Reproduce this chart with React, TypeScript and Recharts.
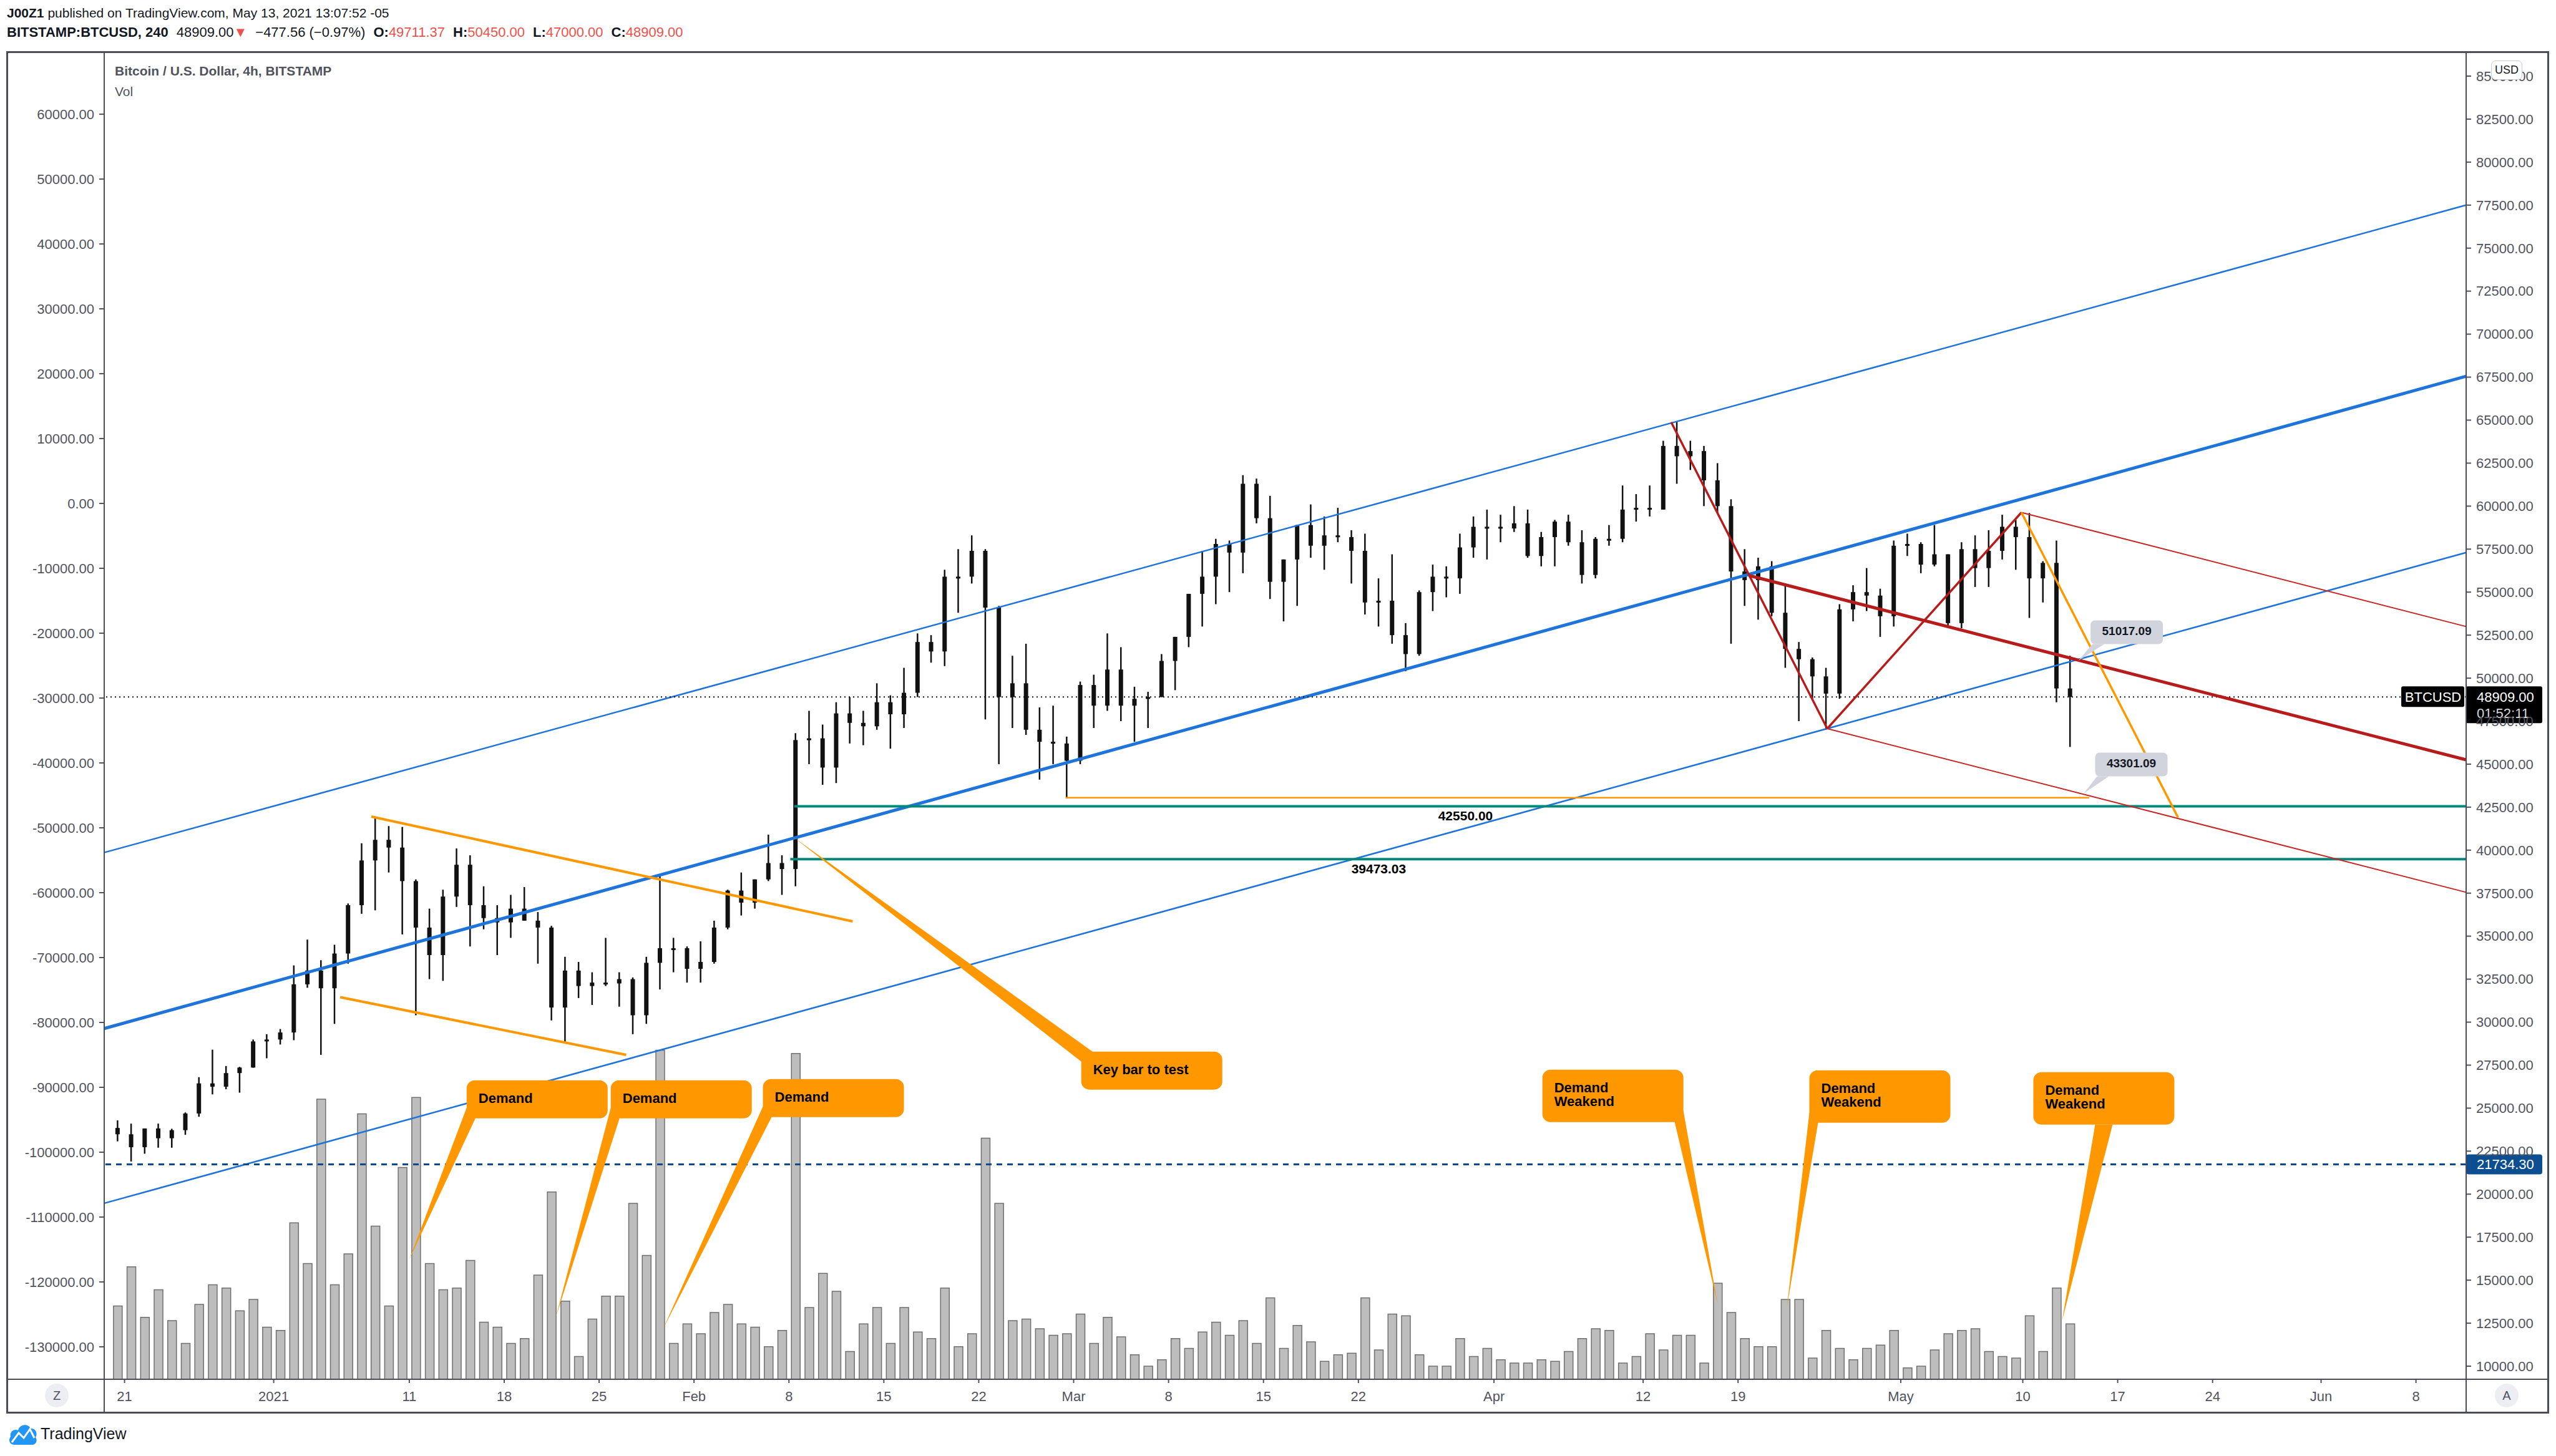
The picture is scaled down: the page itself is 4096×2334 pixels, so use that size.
import React from 'react';
import { ComposedChart, Bar, XAxis, YAxis, ReferenceLine, ReferenceDot } from 'recharts';

const W = 4096;
const H = 2334;
const FONT = "'Liberation Sans', Arial, sans-serif";
const AXIS_TEXT = '#50535e';
const RED = '#f0504a';

// days counted from Jan 1 2021; first daily bar is Dec 20 2020
const FIRST_DAY = -12;
const X_MIN = -12.5;
const X_MAX = 161.7;

const OPEN = [
  23850, 23480, 22730, 23820, 23250, 23720, 24690, 26440, 26250, 27040,
  27360, 28880, 28990, 29400, 32200, 33000, 31970, 33990, 36800, 39400,
  40600, 40150, 38200, 35500, 33900, 37300, 39150, 36800, 36050, 35800,
  36600, 35900, 35500, 30850, 33000, 32100, 32300, 32250, 32500, 30400,
  33450, 34300, 34300, 33100, 33500, 35500, 37650, 36950, 38300, 39250,
  38900, 46400, 46500, 44800, 47950, 47400, 47200, 48600, 47900, 49150,
  52100, 51550, 55900, 55900, 57400, 54100, 48900, 49700, 47000, 46300,
  46200, 45200, 49600, 48400, 50500, 48400, 48800, 48900, 51000, 52400,
  54900, 55900, 57800, 57300, 61300, 59300, 55600, 56900, 58900, 57700,
  58300, 58200, 57400, 54400, 54500, 52500, 51400, 55000, 55900, 55800,
  57600, 58800, 58800, 58700, 59000, 57100, 58200, 59100, 57900, 56000,
  58100, 58100, 59800, 59900, 59800, 63500, 62900, 63200, 61500, 60000,
  56200, 55700, 56500, 53800, 51700, 51100, 50100, 49100, 54000, 55000,
  54800, 53600, 57700, 57800, 56600, 57200, 53200, 57500, 56400, 57400,
  58800, 58200, 55800, 56700, 49400,
];
const HIGH = [
  24290, 24100, 23800, 24100, 23800, 24750, 26800, 28400, 27450, 27400,
  28990, 29300, 29600, 33300, 34800, 33600, 34500, 36900, 40400, 41950,
  41400, 41350, 38300, 36600, 37700, 40100, 39700, 37900, 36800, 37400,
  37850, 36400, 35600, 33800, 33500, 32900, 34900, 32900, 32600, 33800,
  38500, 34900, 34400, 34700, 35900, 37700, 38700, 38300, 40900, 39700,
  46800, 48100, 47300, 48600, 48900, 48100, 49700, 49000, 50600, 52600,
  52500, 56300, 57500, 58300, 57500, 54200, 51300, 52000, 48300, 48400,
  46600, 49800, 50200, 52600, 51800, 49500, 49200, 51400, 52400, 54900,
  57400, 58100, 58000, 61800, 61600, 60600, 56900, 58900, 60100, 59400,
  59900, 58600, 58400, 55800, 57200, 53200, 55100, 56600, 56500, 58400,
  59400, 59800, 59500, 60000, 59800, 58500, 59200, 59500, 58600, 58200,
  58900, 61200, 60700, 61200, 63800, 64900, 63800, 63500, 62500, 60400,
  57500, 57000, 56800, 55500, 52100, 51200, 50600, 54300, 55400, 56400,
  55200, 58000, 58400, 57900, 58900, 57200, 57900, 58300, 58600, 59500,
  59200, 59600, 56800, 58000, 51300,
];
const LOW = [
  23070, 21900, 22350, 22700, 22700, 23450, 24500, 25800, 26100, 25900,
  27350, 27900, 28700, 28950, 32000, 28100, 29900, 33400, 36300, 36500,
  38700, 35100, 30400, 32500, 32400, 36700, 34400, 35400, 33900, 34900,
  35900, 33400, 30100, 28850, 31400, 31000, 32100, 30900, 29300, 29900,
  31900, 32900, 32300, 32300, 33400, 35400, 36200, 36600, 38200, 37400,
  37900, 45000, 43800, 43900, 46200, 46100, 47000, 45900, 47100, 48900,
  50900, 50700, 53800, 55500, 47600, 45000, 47100, 46700, 44100, 45000,
  43000, 45000, 47100, 48100, 47500, 46300, 47100, 48900, 49300, 51800,
  53000, 54300, 55000, 56100, 59000, 54600, 53300, 54200, 57000, 56300,
  57900, 55500, 53700, 53000, 52000, 50400, 51300, 53900, 54700, 54900,
  57000, 56900, 57900, 58500, 57000, 56500, 56500, 57700, 55500, 55800,
  57700, 57900, 59100, 59400, 59800, 61300, 62100, 60000, 59600, 52000,
  54200, 53400, 53600, 50600, 47500, 48800, 47000, 48800, 53300, 53900,
  52400, 53000, 57100, 56100, 56500, 53000, 52900, 55300, 55300, 56900,
  56300, 53500, 54400, 48600, 46000,
];
const CLOSE = [
  23480, 22730, 23820, 23250, 23720, 24690, 26440, 26250, 27040, 27360,
  28880, 28990, 29400, 32200, 33000, 31970, 33990, 36800, 39400, 40600,
  40150, 38200, 35500, 33900, 37300, 39150, 36800, 36050, 35800, 36600,
  35900, 35500, 30850, 33000, 32100, 32300, 32250, 32500, 30400, 33450,
  34300, 34300, 33100, 33500, 35500, 37650, 36950, 38300, 39250, 38900,
  46400, 46500, 44800, 47950, 47400, 47200, 48600, 47900, 49150, 52100,
  51550, 55900, 55900, 57400, 54100, 48900, 49700, 47000, 46300, 46200,
  45200, 49600, 48400, 50500, 48400, 48800, 48900, 51000, 52400, 54900,
  55900, 57800, 57300, 61300, 59300, 55600, 56900, 58900, 57700, 58300,
  58200, 57400, 54400, 54500, 52500, 51400, 55000, 55900, 55800, 57600,
  58800, 58800, 58700, 59000, 57100, 58200, 59100, 57900, 56000, 58100,
  58100, 59800, 59900, 59800, 63500, 62900, 63200, 61500, 60000, 56200,
  55700, 56500, 53800, 51700, 51100, 50100, 49100, 54000, 55000, 54800,
  53600, 57700, 57800, 56600, 57200, 53200, 57500, 56400, 57400, 58800,
  58200, 55800, 56700, 49400, 48909,
];
const VOLUME = [
  900, 1380, 760, 1100, 720, 440, 920, 1160, 1120, 840,
  980, 640, 600, 1920, 1420, 3440, 1160, 1540, 3260, 1880,
  900, 2600, 3460, 1420, 1100, 1120, 1460, 700, 640, 440,
  500, 1280, 2300, 960, 280, 740, 1020, 1020, 2160, 1520,
  4040, 440, 680, 560, 820, 920, 680, 640, 400, 600,
  4000, 880, 1300, 1080, 340, 680, 880, 440, 880, 580,
  500, 1120, 400, 560, 2960, 2160, 720, 740, 620, 540,
  560, 800, 440, 760, 520, 300, 160, 240, 500, 380,
  580, 700, 540, 720, 440, 1000, 380, 660, 460, 220,
  300, 320, 1000, 360, 800, 780, 300, 160, 160, 500,
  280, 380, 240, 200, 200, 240, 220, 340, 500, 620,
  600, 200, 280, 560, 360, 540, 540, 200, 1180, 820,
  500, 400, 400, 980, 980, 260, 600, 380, 240, 380,
  420, 600, 140, 160, 360, 560, 600, 620, 340, 280,
  260, 780, 340, 1120, 680,
];

const TIME_TICKS = [-11, 0, 10, 17, 24, 31, 38, 45, 52, 59, 66, 73, 80, 90, 101, 108, 120, 129, 136, 143, 151, 158];
const TIME_LABELS = ['21', '2021', '11', '18', '25', 'Feb', '8', '15', '22', 'Mar', '8', '15', '22', 'Apr', '12', '19', 'May', '10', '17', '24', 'Jun', '8'];
const PRICE_TICKS = [
  10000, 12500, 15000, 17500, 20000, 22500, 25000, 27500, 30000, 32500, 35000,
  37500, 40000, 42500, 45000, 47500, 50000, 52500, 55000, 57500, 60000, 62500,
  65000, 67500, 70000, 72500, 75000, 77500, 80000, 82500, 85000,
];
const LEFT_TICKS = [
  -130000, -120000, -110000, -100000, -90000, -80000, -70000, -60000, -50000, -40000,
  -30000, -20000, -10000, 0, 10000, 20000, 30000, 40000, 50000, 60000,
];

// drawings, as [day, price]
const CHANNEL_UPPER = [[X_MIN, 39860], [X_MAX, 77500]];
const CHANNEL_MID = [[X_MIN, 29630], [X_MAX, 67550]];
const CHANNEL_LOWER = [[X_MIN, 19470], [X_MAX, 57300]];
const WEDGE_TOP = [[7.2, 41950], [42.7, 35860]];
const WEDGE_BOTTOM = [[4.9, 31450], [26.0, 28100]];
const FEB_LOW_RAY = [[58.4, 43050], [133.9, 43050]];
const FORK_A = [103.07, 64880];
const FORK_B = [114.58, 47065];
const FORK_C = [128.9, 59630];
const FORK_M = [108.8, 55970];
const FORK_RIGHT = [45250, 53000, 37550]; // median, upper, lower at right edge
const DROP_LINE = [[128.9, 59630], [140.45, 41900]];
const LEVEL_PRICES = [42550, 39473.03];
const LEVEL_STARTS = [38.4, 38.1];
const LEVEL_LABEL_DAYS = [87.9, 81.5];
const SUPPORT_PRICE = 21734.3;
const LAST_PRICE = 48909;

const DEMAND_BOXES = [[14.23, 26620], [24.86, 26620], [36.08, 26690]];
const DEMAND_TIPS = [[10.0, 16200], [20.8, 12830], [28.7, 12140]];
const KEY_BOX = [59.56, 28290];
const KEY_TIP = [38.3, 40770];
const WEAK_BOXES = [[93.57, 27235], [113.26, 27200], [129.78, 27090]];
const WEAK_TIPS = [[106.5, 13590], [111.6, 13410], [131.9, 12650]];
const PRICE_NOTES = ['51017.09', '43301.09'];
const PRICE_NOTE_BOXES = [[134.0, 53360], [134.34, 45670]];
const PRICE_NOTE_TIPS = [[133.1, 51017.09], [133.5, 43301.09]];

const data = OPEN.map((open, i) => ({
  t: FIRST_DAY + i + 0.5,
  range: [LOW[i], HIGH[i]],
  open,
  high: HIGH[i],
  low: LOW[i],
  close: CLOSE[i],
  vol: VOLUME[i],
}));

const seg = (a: number[], b: number[]) => [{ x: a[0], y: a[1] }, { x: b[0], y: b[1] }];
const ids = { xAxisId: 'x', yAxisId: 'price' } as const;

const Candle = (props: any) => {
  const { x, width, payload } = props;
  let { y, height } = props;
  if (!payload || y == null || height == null) return null;
  if (height < 0) { y += height; height = -height; }
  const { open, high, low, close } = payload;
  const span = high - low || 1;
  const py = (v: number) => y + ((high - v) / span) * height;
  const cx = x + width / 2;
  const top = py(Math.max(open, close));
  const bot = py(Math.min(open, close));
  return (
    <g>
      <line x1={cx} x2={cx} y1={y} y2={y + height} stroke="#111" strokeWidth={2.5} />
      <rect x={x} y={top} width={width} height={Math.max(bot - top, 3)} fill="#111" />
    </g>
  );
};

const balloon = (
  lines: string[], w: number, h: number, base: number[][],
  opts: { fill: string; r: number; size: number; center?: boolean; color?: string },
) => (p: any) => {
  const { x1, y1, x2, y2 } = p;
  const mid = y1 + h / 2;
  return (
    <g>
      <polygon
        points={`${x1 + base[0][0]},${y1 + base[0][1]} ${x2},${y2} ${x1 + base[1][0]},${y1 + base[1][1]}`}
        fill={opts.fill}
      />
      <rect x={x1} y={y1} width={w} height={h} rx={opts.r} fill={opts.fill} />
      {lines.map((s, i) => (
        <text
          key={i}
          x={opts.center ? x1 + w / 2 : x1 + 19}
          y={mid - 2 + (i - (lines.length - 1) / 2) * 22}
          textAnchor={opts.center ? 'middle' : 'start'}
          dominantBaseline="central"
          fontSize={opts.size}
          fontWeight="bold"
          fontFamily={FONT}
          fill={opts.color || '#000'}
        >
          {s}
        </text>
      ))}
    </g>
  );
};

const ORANGE = '#ff9800';
const orangeOpts = { fill: ORANGE, r: 13, size: 22 };
const grayOpts = { fill: '#d1d4dc', r: 7, size: 19, center: true, color: '#131722' };

const gap = { marginLeft: 13 };

export default function App() {
  return (
    <div style={{ position: 'absolute', left: 0, top: 0, width: W, height: H, background: '#fff', fontFamily: FONT, overflow: 'hidden' }}>
      <div style={{ position: 'absolute', left: 11, top: 8, fontSize: 21, lineHeight: '26px', color: '#131722', whiteSpace: 'nowrap' }}>
        <b>J00Z1</b> published on TradingView.com, May 13, 2021 13:07:52 -05
      </div>
      <div style={{ position: 'absolute', left: 11, top: 38, fontSize: 22, lineHeight: '28px', color: '#131722', whiteSpace: 'nowrap' }}>
        <b>BITSTAMP:BTCUSD, 240</b>
        <span style={gap}>48909.00</span><span style={{ color: RED }}>▼</span>
        <span style={gap}>−477.56 (−0.97%)</span>
        <b style={gap}>O:</b><span style={{ color: RED }}>49711.37</span>
        <b style={gap}>H:</b><span style={{ color: RED }}>50450.00</span>
        <b style={gap}>L:</b><span style={{ color: RED }}>47000.00</span>
        <b style={gap}>C:</b><span style={{ color: RED }}>48909.00</span>
      </div>

      <div style={{ position: 'absolute', left: 0, top: 0 }}>
        <ComposedChart width={W} height={H} data={data} margin={{ top: 83, right: 13, bottom: 70, left: 11 }}>
          <XAxis
            xAxisId="x"
            type="number"
            dataKey="t"
            domain={[X_MIN, X_MAX]}
            allowDataOverflow
            ticks={TIME_TICKS}
            interval={0}
            tickFormatter={(v: number) => TIME_LABELS[TIME_TICKS.indexOf(v)] ?? ''}
            height={53}
            axisLine={false}
            tickLine={{ stroke: AXIS_TEXT, strokeWidth: 2 }}
            tickSize={6}
            tickMargin={13}
            tick={{ fontSize: 22, fill: AXIS_TEXT, fontFamily: FONT }}
          />
          <XAxis xAxisId="xv" type="number" dataKey="t" domain={[X_MIN, X_MAX]} allowDataOverflow hide />
          <YAxis
            yAxisId="left"
            orientation="left"
            type="number"
            domain={[-135005, 69625]}
            allowDataOverflow
            ticks={LEFT_TICKS}
            interval={0}
            width={156}
            axisLine={false}
            tickLine={{ stroke: AXIS_TEXT, strokeWidth: 2 }}
            tickSize={8}
            tickMargin={8}
            tickFormatter={(v: number) => v.toFixed(2)}
            tick={{ fontSize: 22, fill: AXIS_TEXT, fontFamily: FONT }}
          />
          <YAxis
            yAxisId="price"
            orientation="right"
            type="number"
            domain={[9238, 86415]}
            allowDataOverflow
            ticks={PRICE_TICKS}
            interval={0}
            width={131}
            axisLine={false}
            tickLine={{ stroke: AXIS_TEXT, strokeWidth: 2 }}
            tickSize={8}
            tickMargin={8}
            tickFormatter={(v: number) => v.toFixed(2)}
            tick={{ fontSize: 22, fill: AXIS_TEXT, fontFamily: FONT }}
          />
          <YAxis yAxisId="vol" type="number" domain={[0, 16300]} allowDataOverflow hide />

          <Bar xAxisId="xv" yAxisId="vol" dataKey="vol" barSize={14} fill="#bdbdbd" stroke="#707070" strokeWidth={1.5} isAnimationActive={false} />
          <Bar {...ids} dataKey="range" barSize={7} shape={(p: any) => <Candle {...p} />} isAnimationActive={false} />

          {/* rising channel */}
          <ReferenceLine {...ids} segment={seg(CHANNEL_UPPER[0], CHANNEL_UPPER[1])} stroke="#1e74d8" strokeWidth={2.5} ifOverflow="visible" />
          <ReferenceLine {...ids} segment={seg(CHANNEL_MID[0], CHANNEL_MID[1])} stroke="#1e74d8" strokeWidth={5} ifOverflow="visible" />
          <ReferenceLine {...ids} segment={seg(CHANNEL_LOWER[0], CHANNEL_LOWER[1])} stroke="#1e74d8" strokeWidth={2.5} ifOverflow="visible" />

          {/* January wedge */}
          <ReferenceLine {...ids} segment={seg(WEDGE_TOP[0], WEDGE_TOP[1])} stroke={ORANGE} strokeWidth={4} ifOverflow="visible" />
          <ReferenceLine {...ids} segment={seg(WEDGE_BOTTOM[0], WEDGE_BOTTOM[1])} stroke={ORANGE} strokeWidth={4} ifOverflow="visible" />

          {/* horizontal levels */}
          <ReferenceLine {...ids} y={LAST_PRICE} stroke="#111" strokeWidth={2} strokeDasharray="2 5" />
          <ReferenceLine {...ids} y={SUPPORT_PRICE} stroke="#0c4a8c" strokeWidth={3} strokeDasharray="9 8" />
          {LEVEL_PRICES.map((p, i) => (
            <ReferenceLine key={'lv' + i} {...ids} segment={seg([LEVEL_STARTS[i], p], [X_MAX, p])} stroke="#00897b" strokeWidth={4} ifOverflow="visible" />
          ))}
          <ReferenceLine {...ids} segment={seg(FEB_LOW_RAY[0], FEB_LOW_RAY[1])} stroke={ORANGE} strokeWidth={2.5} ifOverflow="visible" />
          {LEVEL_PRICES.map((p, i) => (
            <ReferenceDot
              key={'lt' + i}
              {...ids}
              x={LEVEL_LABEL_DAYS[i]}
              y={p}
              ifOverflow="visible"
              shape={(d: any) => (
                <text x={d.cx} y={d.cy + 15} textAnchor="middle" dominantBaseline="central" fontSize={21} fontWeight="bold" fontFamily={FONT} fill="#000">
                  {p.toFixed(2)}
                </text>
              )}
            />
          ))}

          {/* modified pitchfork */}
          <ReferenceLine {...ids} segment={seg(FORK_A, FORK_B)} stroke="#b71c1c" strokeWidth={3.5} ifOverflow="visible" />
          <ReferenceLine {...ids} segment={seg(FORK_B, FORK_C)} stroke="#b71c1c" strokeWidth={3.5} ifOverflow="visible" />
          <ReferenceLine {...ids} segment={seg(FORK_M, [X_MAX, FORK_RIGHT[0]])} stroke="#b71c1c" strokeWidth={5} ifOverflow="visible" />
          <ReferenceLine {...ids} segment={seg(FORK_C, [X_MAX, FORK_RIGHT[1]])} stroke="#c62828" strokeWidth={2} ifOverflow="visible" />
          <ReferenceLine {...ids} segment={seg(FORK_B, [X_MAX, FORK_RIGHT[2]])} stroke="#c62828" strokeWidth={2} ifOverflow="visible" />
          <ReferenceLine {...ids} segment={seg(DROP_LINE[0], DROP_LINE[1])} stroke={ORANGE} strokeWidth={3.5} ifOverflow="visible" />

          {/* price notes */}
          {PRICE_NOTES.map((s, i) => (
            <ReferenceLine
              key={'pn' + i}
              {...ids}
              segment={seg(PRICE_NOTE_BOXES[i], PRICE_NOTE_TIPS[i])}
              ifOverflow="visible"
              shape={balloon([s], 116, 38, [[3, 38], [22, 38]], grayOpts)}
            />
          ))}

          {/* callouts */}
          {DEMAND_BOXES.map((b, i) => (
            <ReferenceLine
              key={'dm' + i}
              {...ids}
              segment={seg(b, DEMAND_TIPS[i])}
              ifOverflow="visible"
              shape={balloon(['Demand'], 226, 61, [[0, 44], [14, 61]], orangeOpts)}
            />
          ))}
          <ReferenceLine
            {...ids}
            segment={seg(KEY_BOX, KEY_TIP)}
            ifOverflow="visible"
            shape={balloon(['Key bar to test'], 226, 61, [[0, 16], [18, 0]], orangeOpts)}
          />
          <ReferenceLine
            {...ids}
            segment={seg(WEAK_BOXES[0], WEAK_TIPS[0])}
            ifOverflow="visible"
            shape={balloon(['Demand', 'Weakend'], 226, 84, [[226, 66], [212, 84]], orangeOpts)}
          />
          <ReferenceLine
            {...ids}
            segment={seg(WEAK_BOXES[1], WEAK_TIPS[1])}
            ifOverflow="visible"
            shape={balloon(['Demand', 'Weakend'], 226, 84, [[0, 68], [14, 84]], orangeOpts)}
          />
          <ReferenceLine
            {...ids}
            segment={seg(WEAK_BOXES[2], WEAK_TIPS[2])}
            ifOverflow="visible"
            shape={balloon(['Demand', 'Weakend'], 226, 84, [[99, 84], [127, 84]], orangeOpts)}
          />

          {/* axis price tags */}
          <ReferenceDot
            {...ids}
            x={X_MAX}
            y={LAST_PRICE}
            ifOverflow="visible"
            shape={(d: any) => (
              <g fontFamily={FONT} fontSize={22}>
                <rect x={d.cx - 104} y={d.cy - 17} width={101} height={33} rx={3} fill="#000" />
                <text x={d.cx - 53} y={d.cy} textAnchor="middle" dominantBaseline="central" fill="#fff">BTCUSD</text>
                <rect x={d.cx - 1} y={d.cy - 17} width={123} height={59} rx={3} fill="#000" />
                <text x={d.cx + 17} y={d.cy} dominantBaseline="central" fill="#fff">48909.00</text>
                <text x={d.cx + 17} y={d.cy + 26} dominantBaseline="central" fill="#d6d8de">01:52:11</text>
              </g>
            )}
          />
          <ReferenceDot
            {...ids}
            x={X_MAX}
            y={SUPPORT_PRICE}
            ifOverflow="visible"
            shape={(d: any) => (
              <g fontFamily={FONT} fontSize={22}>
                <rect x={d.cx} y={d.cy - 16} width={122} height={32} rx={4} fill="#0c4e8f" />
                <text x={d.cx + 17} y={d.cy} dominantBaseline="central" fill="#fff">21734.30</text>
              </g>
            )}
          />
        </ComposedChart>
      </div>

      {/* pane legend */}
      <div style={{ position: 'absolute', left: 184, top: 101, fontSize: 21, lineHeight: '26px', color: AXIS_TEXT, fontWeight: 'bold', whiteSpace: 'nowrap' }}>
        Bitcoin / U.S. Dollar, 4h, BITSTAMP
      </div>
      <div style={{ position: 'absolute', left: 184, top: 134, fontSize: 21, lineHeight: '26px', color: AXIS_TEXT }}>Vol</div>

      {/* frame */}
      <div style={{ position: 'absolute', left: 10, top: 82, width: 4075, height: 2184, border: '3px solid #4a4d57', boxSizing: 'border-box', pointerEvents: 'none' }} />
      <div style={{ position: 'absolute', left: 166, top: 83, width: 2, height: 2182, background: '#4a4d57' }} />
      <div style={{ position: 'absolute', left: 3951, top: 83, width: 2, height: 2182, background: '#4a4d57' }} />
      <div style={{ position: 'absolute', left: 11, top: 2210, width: 4073, height: 2, background: '#4a4d57' }} />

      <div style={{ position: 'absolute', left: 3992, top: 97, width: 50, height: 31, border: '1px solid #c9cbd3', borderRadius: 7, background: '#fff', boxSizing: 'border-box', fontSize: 18, lineHeight: '29px', textAlign: 'center', color: '#131722' }}>USD</div>
      <div style={{ position: 'absolute', left: 72, top: 2218, width: 38, height: 38, borderRadius: 19, background: '#eceef3', fontSize: 20, lineHeight: '38px', textAlign: 'center', color: AXIS_TEXT }}>Z</div>
      <div style={{ position: 'absolute', left: 3998, top: 2218, width: 38, height: 38, borderRadius: 19, background: '#eceef3', fontSize: 20, lineHeight: '38px', textAlign: 'center', color: AXIS_TEXT }}>A</div>

      <div style={{ position: 'absolute', left: 13, top: 2278, display: 'flex', alignItems: 'center' }}>
        <svg width={48} height={40} viewBox="0 0 48 40">
          <path d="M10 38 C2 38 0 30 4 25 C2 17 10 12 16 15 C18 5 32 3 36 12 C44 11 48 20 44 26 C48 32 44 38 38 38 Z" fill="#2196f3" />
          <path d="M6 34 L17 19 L25 27 L35 13 L42 27" stroke="#fff" strokeWidth={3} fill="none" />
        </svg>
        <span style={{ fontSize: 25, color: '#131722', marginLeft: 4 }}>TradingView</span>
      </div>
    </div>
  );
}
